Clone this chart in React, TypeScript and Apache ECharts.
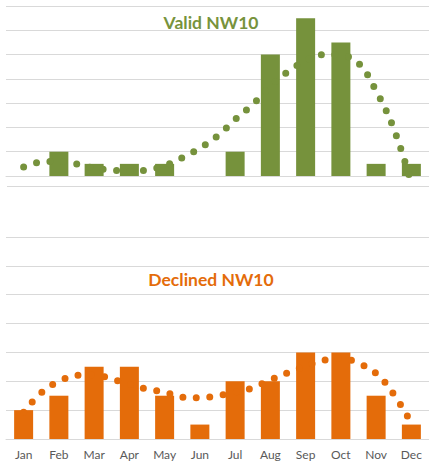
import React, { useEffect, useRef } from "react";
import * as echarts from "echarts";

const months = ["Jan", "Feb", "Mar", "Apr", "May", "Jun", "Jul", "Aug", "Sep", "Oct", "Nov", "Dec"];
const validCounts = [0, 2, 1, 1, 1, 0, 2, 10, 13, 11, 1, 1];
const declinedCounts = [2, 3, 5, 5, 3, 1, 4, 4, 6, 6, 3, 1];

// trendline positions (month index, 1 = Jan) and values
const trendX = [1, 1.5, 2, 2.5, 3, 3.5, 4, 4.5, 5, 5.5, 6, 6.5, 7, 7.5, 8, 8.5, 9, 9.5, 10, 10.5, 11, 11.5, 12];
const validTrend = [0.75, 1.15, 1.2, 1.0, 0.65, 0.5, 0.4, 0.5, 0.85, 1.5, 2.3, 3.3, 4.65, 5.9, 7.4, 8.6, 9.5, 10.0, 9.95, 9.3, 7.0, 3.9, -0.6];
const declinedTrend = [1.85, 3.2, 4.0, 4.4, 4.45, 4.15, 3.8, 3.45, 3.25, 2.9, 2.85, 3.0, 3.25, 3.55, 4.1, 4.6, 5.05, 5.45, 5.6, 5.25, 4.55, 3.1, 1.1];

const titles = ["Valid NW10", "Declined NW10"];
const GREEN = "#76923C";
const ORANGE = "#E46C0A";
const GRID = "#D9D9D9";

export default function App() {
  const ref = useRef<HTMLDivElement>(null);
  useEffect(() => {
    if (!ref.current) return;
    const chart = echarts.init(ref.current, undefined, { renderer: "svg" });
    const grids = [
      { left: 6, right: -2, top: 6, height: 170 },
      { left: 6, right: -2, top: 237, height: 202 },
    ];
    const xAxes: any[] = [];
    const yAxes: any[] = [];
    const series: any[] = [];
    [0, 1].forEach((g) => {
      xAxes.push({
        type: "category",
        gridIndex: g,
        data: months,
        axisLine: { show: true, lineStyle: { color: GRID, width: 1 } },
        axisTick: { show: false },
        axisLabel: g === 1
          ? { show: true, color: "#595959", fontFamily: "Lato", fontSize: 12, margin: 9 }
          : { show: false },
        splitLine: { show: false },
      });
      xAxes.push({
        type: "value",
        gridIndex: g,
        min: 0.5,
        max: 12.5,
        show: false,
      });
      yAxes.push({
        type: "value",
        gridIndex: g,
        min: 0,
        max: 14,
        interval: 2,
        axisLine: { show: false },
        axisTick: { show: false },
        axisLabel: { show: false },
        splitLine: { show: true, lineStyle: { color: GRID, width: 1 } },
      });
    });
    const sets = [
      { counts: validCounts, trend: validTrend, color: GREEN },
      { counts: declinedCounts, trend: declinedTrend, color: ORANGE },
    ];
    sets.forEach((s, g) => {
      series.push({
        type: "bar",
        xAxisIndex: g * 2,
        yAxisIndex: g,
        data: s.counts,
        barWidth: 19,
        itemStyle: { color: s.color },
        z: 2,
      });
      series.push({
        type: "line",
        xAxisIndex: g * 2 + 1,
        yAxisIndex: g,
        data: trendX.map((x, i) => [x, s.trend[i]]),
        smooth: 0.4,
        showSymbol: false,
        clip: false,
        lineStyle: { color: s.color, width: 7, type: [0, 13.5], cap: "round" },
        z: 3,
      });
    });
    chart.setOption({
      animation: false,
      grid: grids,
      xAxis: xAxes,
      yAxis: yAxes,
      series,
      graphic: [
        { type: "line", shape: { x1: 7, y1: 186.5, x2: 429, y2: 186.5 }, style: { stroke: GRID, lineWidth: 1 }, z: 0 },
        {
          type: "text", x: 211, y: 22,
          style: { text: titles[0], fill: "#77933C", font: "bold 17.5px Lato", textAlign: "center", textVerticalAlign: "middle" },
          z: 10,
        },
        {
          type: "text", x: 211, y: 279,
          style: { text: titles[1], fill: "#E46C0A", font: "bold 17.5px Lato", textAlign: "center", textVerticalAlign: "middle" },
          z: 10,
        },
      ],
    });
    return () => chart.dispose();
  }, []);
  return (
    <div
      ref={ref}
      style={{ position: "fixed", left: 0, top: 0, width: 429, height: 464, background: "#fff" }}
    />
  );
}
